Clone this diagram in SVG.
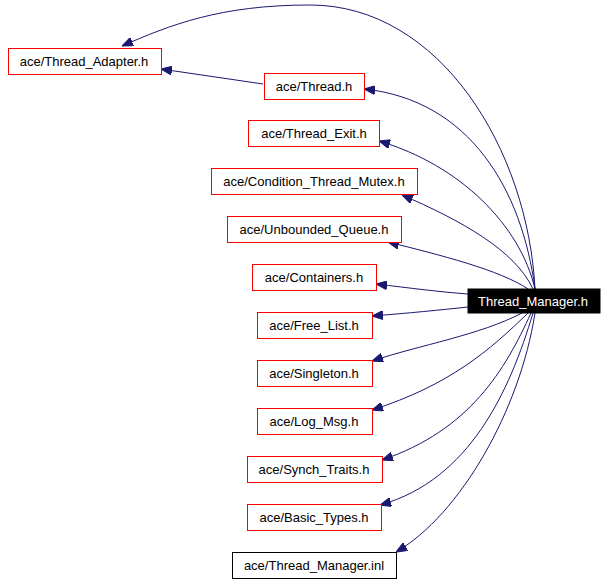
<svg xmlns="http://www.w3.org/2000/svg" width="608" height="583" viewBox="0 0 608 583">
<style>
.n rect{fill:#fff;stroke:#f00;stroke-width:1}
.b rect{fill:#fff;stroke:#000;stroke-width:1}
.m rect{fill:#000;stroke:#000}
text{font-family:"Liberation Sans",Arial,sans-serif;font-size:13px;text-anchor:middle;fill:#000}
.m text{fill:#fff}
.e path{fill:none;stroke:#191970;stroke-width:1}
</style>
<defs>
<marker id="a" viewBox="0 0 11 9" refX="11" refY="4.5" markerWidth="11" markerHeight="9" markerUnits="userSpaceOnUse" orient="auto">
<path d="M0,0 L11,4.5 L0,9 z" fill="#191970" stroke="#191970"/>
</marker>
</defs>
<g class="e">
<path d="M535,289 C528,150 440,5 310,5 C220,5 170,25 122,46" marker-end="url(#a)"/>
<path d="M263,84 L161,69" marker-end="url(#a)"/>
<path d="M535,289 C522,190 470,100 364,89" marker-end="url(#a)"/>
<path d="M535,289 C520,225 460,165 379,141" marker-end="url(#a)"/>
<path d="M533,289 C515,250 460,220 402,195" marker-end="url(#a)"/>
<path d="M528,289 C500,270 440,255 388,242" marker-end="url(#a)"/>
<path d="M468,294 C440,292 410,288 376,284" marker-end="url(#a)"/>
<path d="M468,307 C440,310 410,313 372,316" marker-end="url(#a)"/>
<path d="M522,313 C480,335 420,345 372,361" marker-end="url(#a)"/>
<path d="M528,313 C490,350 450,385 372,410" marker-end="url(#a)"/>
<path d="M531,313 C505,370 470,430 382,460" marker-end="url(#a)"/>
<path d="M533,313 C510,390 470,480 380,505" marker-end="url(#a)"/>
<path d="M535,313 C520,410 460,515 396,552" marker-end="url(#a)"/>
</g>
<g id="thread_adapter" class="n"><rect x="8.5" y="48.5" width="153" height="26"/><text x="84" y="66">ace/Thread_Adapter.h</text></g>
<g id="thread" class="n"><rect x="264.5" y="73.5" width="100" height="26"/><text x="314" y="91">ace/Thread.h</text></g>
<g id="thread_exit" class="n"><rect x="248.5" y="120.5" width="131" height="26"/><text x="314" y="138">ace/Thread_Exit.h</text></g>
<g id="condition_thread_mutex" class="n"><rect x="211.5" y="168.5" width="206" height="26"/><text x="314" y="186">ace/Condition_Thread_Mutex.h</text></g>
<g id="unbounded_queue" class="n"><rect x="227.5" y="216.5" width="174" height="26"/><text x="314" y="234">ace/Unbounded_Queue.h</text></g>
<g id="containers" class="n"><rect x="252.5" y="264.5" width="124" height="26"/><text x="314" y="282">ace/Containers.h</text></g>
<g id="free_list" class="n"><rect x="257.5" y="312.5" width="115" height="26"/><text x="314" y="330">ace/Free_List.h</text></g>
<g id="singleton" class="n"><rect x="257.5" y="360.5" width="115" height="26"/><text x="314" y="378">ace/Singleton.h</text></g>
<g id="log_msg" class="n"><rect x="257.5" y="408.5" width="115" height="26"/><text x="314" y="426">ace/Log_Msg.h</text></g>
<g id="synch_traits" class="n"><rect x="247.5" y="456.5" width="135" height="26"/><text x="314" y="474">ace/Synch_Traits.h</text></g>
<g id="basic_types" class="n"><rect x="247.5" y="504.5" width="134" height="26"/><text x="314" y="522">ace/Basic_Types.h</text></g>
<g id="thread_manager_inl" class="b"><rect x="232.5" y="552.5" width="164" height="26"/><text x="314" y="570">ace/Thread_Manager.inl</text></g>
<g id="thread_manager_h" class="m"><rect x="468" y="289" width="132" height="24"/><text x="533" y="306">Thread_Manager.h</text></g>
</svg>
